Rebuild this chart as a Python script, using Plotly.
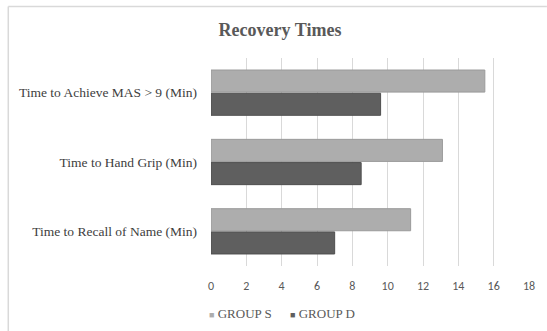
import plotly.graph_objects as go

categories = [
    "Time to Achieve MAS > 9 (Min)",
    "Time to Hand Grip (Min)",
    "Time to Recall of Name (Min)",
]
group_s = [15.5, 13.1, 11.3]
group_d = [9.6, 8.5, 7.0]
x_ticks = [0, 2, 4, 6, 8, 10, 12, 14, 16, 18]

series = [("GROUP S", group_s, "#adadad", "#9a9a9a"),
          ("GROUP D", group_d, "#5f5f5f", "#4f4f4f")]

serif = "Liberation Serif, Times New Roman, serif"
sans = "Carlito, Liberation Sans, Arial, sans-serif"

W, H = 547, 331
ML, MR, MT, MB = 211, 16, 58, 65
PW, PH = W - ML - MR, H - MT - MB


def px_x(p):
    return (p - ML) / PW


def px_y(p):
    return (H - MB - p) / PH


fig = go.Figure()
for name, vals, fill, edge in series:
    fig.add_trace(go.Bar(
        name=name, y=categories, x=vals, orientation="h",
        marker=dict(color=fill, line=dict(color=edge, width=1)),
        showlegend=False,
    ))

fig.update_layout(
    width=W, height=H,
    margin=dict(l=ML, r=MR, t=MT, b=MB),
    paper_bgcolor="white", plot_bgcolor="white",
    barmode="group", bargap=0.33, bargroupgap=0.05,
    title=dict(
        text="<b>Recovery Times</b>", x=px_x(280) * PW / W + ML / W,
        xanchor="center", y=1 - 30 / H, yanchor="middle",
        font=dict(family=serif, size=18, color="#595959"),
    ),
    xaxis=dict(
        range=[0, 18], tickvals=x_ticks, showgrid=True, gridcolor="#d9d9d9",
        gridwidth=1, zeroline=False, showline=False,
        tickfont=dict(family=sans, size=12, color="#595959"),
        ticklabelstandoff=11,
    ),
    yaxis=dict(
        autorange="reversed", showgrid=False, zeroline=False, showline=False,
        tickfont=dict(family=serif, size=13.5, color="#404040"),
        ticklabelstandoff=13,
    ),
)

# Legend drawn as square glyph + label per series
legend_x = [207, 288]
for (name, _, fill, _), lx in zip(series, legend_x):
    fig.add_annotation(
        xref="paper", yref="paper", x=px_x(lx), y=px_y(313),
        xanchor="left", yanchor="middle", showarrow=False,
        text=f'<span style="color:{fill};font-size:9px">■</span> {name}',
        font=dict(family=serif, size=13, color="#595959"),
    )

# Chart-area border (left and top edges)
fig.add_shape(type="line", xref="paper", yref="paper",
              x0=px_x(7), x1=px_x(7), y0=px_y(H + 2), y1=px_y(6.5),
              line=dict(color="#d9d9d9", width=1.5))
fig.add_shape(type="line", xref="paper", yref="paper",
              x0=px_x(7), x1=px_x(W + 2), y0=px_y(6.5), y1=px_y(6.5),
              line=dict(color="#d9d9d9", width=1.5))

fig.write_html("out.html")
